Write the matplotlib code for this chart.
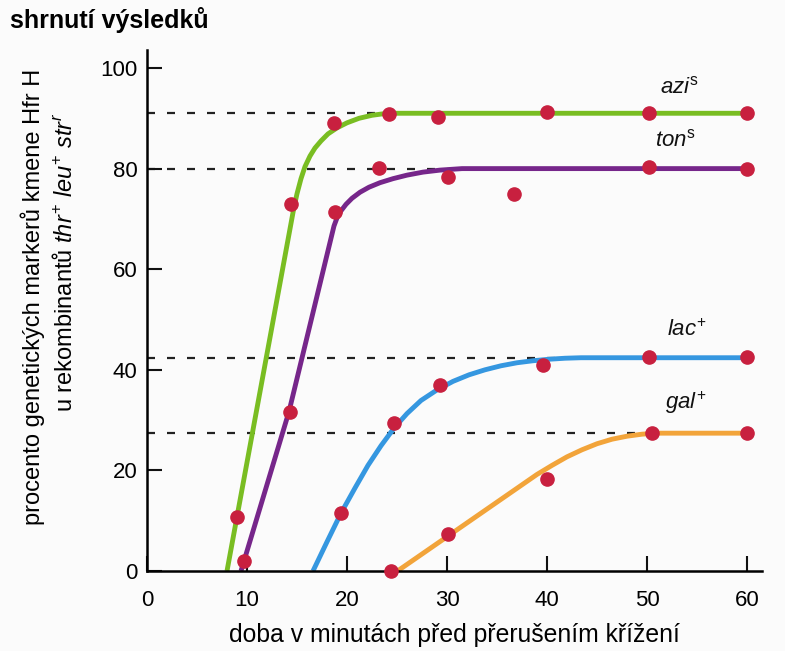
import matplotlib
matplotlib.use("Agg")
import matplotlib.pyplot as plt
from matplotlib import font_manager

# pick a condensed sans if available
names = {f.name for f in font_manager.fontManager.ttflist}
FONT = "Liberation Sans Narrow" if "Liberation Sans Narrow" in names else "Liberation Sans"

plt.rcParams["font.family"] = [FONT, "DejaVu Sans"]
plt.rcParams["mathtext.fontset"] = "custom"
plt.rcParams["mathtext.rm"] = FONT
plt.rcParams["mathtext.it"] = FONT + ":italic"

# fitted curves
azi_cx = [8.0, 14.65, 15.0, 15.4, 15.8, 16.3, 16.8, 17.4, 18.1, 19.0, 20.0, 21.2, 22.5, 24.0, 60.0]
azi_cy = [0.0, 71.8, 75.0, 78.0, 80.4, 82.5, 84.1, 85.5, 86.9, 88.1, 89.1, 90.0, 90.6, 91.0, 91.0]
ton_cx = [9.4, 14.2, 18.7, 19.0, 19.4, 19.9, 20.5, 21.3, 22.2, 23.3, 24.6, 26.0, 27.6, 29.3, 31.5, 60.0]
ton_cy = [0.0, 31.7, 68.6, 70.2, 71.6, 72.9, 74.1, 75.3, 76.3, 77.2, 78.0, 78.7, 79.3, 79.7, 80.0, 80.0]
lac_cx = [16.6, 18.0, 19.4, 20.8, 22.1, 23.4, 24.7, 26.0, 27.4, 29.0, 30.6, 32.2, 33.8, 35.4, 37.0,
          38.6, 40.2, 41.8, 43.4, 60.0]
lac_cy = [0.0, 5.8, 11.5, 16.5, 21.0, 24.9, 28.4, 31.3, 33.9, 36.0, 37.7, 39.0, 40.0, 40.8, 41.4,
          41.8, 42.1, 42.3, 42.4, 42.4]
gal_cx = [25.05, 39.0, 40.5, 42.0, 43.5, 45.0, 46.5, 48.0, 49.5, 51.0, 60.0]
gal_cy = [0.0, 19.2, 21.0, 22.7, 24.1, 25.3, 26.2, 26.8, 27.2, 27.4, 27.4]

# measured points
azi_x = [9.0, 14.4, 18.7, 24.2, 29.1, 40.0, 50.2, 60.0]
azi_y = [10.8, 73.0, 89.1, 90.9, 90.3, 91.2, 91.0, 91.0]
ton_x = [9.7, 14.3, 18.8, 23.2, 30.1, 36.7, 50.2, 60.0]
ton_y = [1.9, 31.7, 71.4, 80.2, 78.3, 75.0, 80.3, 80.0]
lac_x = [19.4, 24.7, 29.3, 39.6, 50.2, 60.0]
lac_y = [11.5, 29.5, 37.0, 41.0, 42.5, 42.5]
gal_x = [24.4, 30.1, 40.0, 50.5, 60.0]
gal_y = [0.0, 7.4, 18.2, 27.4, 27.4]

# plateau levels and where the dashed guide stops
levels = [91.0, 80.0, 42.4, 27.4]
level_ends = [25.0, 31.0, 44.0, 50.0]

labels = [r"$\mathit{azi}^{\mathrm{s}}$", r"$\mathit{ton}^{\mathrm{s}}$",
          r"$\mathit{lac}^{+}$", r"$\mathit{gal}^{+}$"]
label_x = [53.3, 52.9, 54.0, 53.9]
label_y = [94.0, 83.5, 45.8, 30.8]

fig = plt.figure(figsize=(7.85, 6.51), dpi=100)
fig.patch.set_facecolor("#fbfbfb")
ax = fig.add_axes([147 / 785, 80 / 651, 615 / 785, 520.6 / 651])
ax.set_facecolor("#fbfbfb")

for lv, xe in zip(levels, level_ends):
    ax.plot([0, xe], [lv, lv], color="#222222", lw=1.6, dashes=(3.6, 5.4), zorder=1)

line = dict(lw=3.5, solid_capstyle="butt", solid_joinstyle="round", zorder=2)
ax.plot(azi_cx, azi_cy, color="#79bd22", **line)
ax.plot(ton_cx, ton_cy, color="#76268a", **line)
ax.plot(lac_cx, lac_cy, color="#3597e0", **line)
ax.plot(gal_cx, gal_cy, color="#f2a43a", **line)

dot = dict(ls="none", marker="o", ms=9.5, color="#c8203f", zorder=3, clip_on=False)
for xs, ys in [(azi_x, azi_y), (ton_x, ton_y), (lac_x, lac_y), (gal_x, gal_y)]:
    ax.plot(xs, ys, **dot)

for t, x, y in zip(labels, label_x, label_y):
    ax.text(x, y, t, fontsize=16, ha="center", va="bottom", color="#111111")

ax.set_xlim(0, 61.5)
ax.set_ylim(0, 103.5)
ax.set_xticks([0, 10, 20, 30, 40, 50, 60])
ax.set_yticks([0, 20, 40, 60, 80, 100])
for s in ["top", "right"]:
    ax.spines[s].set_visible(False)
for s in ["left", "bottom"]:
    ax.spines[s].set_linewidth(1.8)
ax.tick_params(axis="both", direction="in", length=11, width=1.5, labelsize=16, color="#111111")
ax.tick_params(axis="x", pad=14)
ax.tick_params(axis="y", pad=7)

ax.set_xlabel("doba v minutách před přerušením křížení", fontsize=17.8, labelpad=8)

fig.text(33 / 785, 1 - 297 / 651, "procento genetických markerů kmene Hfr H",
         rotation=90, fontsize=17, ha="center", va="center")
fig.text(65 / 785, 1 - 262 / 651,
         r"u rekombinantů $\mathit{thr}^{+}$ $\mathit{leu}^{+}$ $\mathit{str}^{\mathit{r}}$",
         rotation=90, fontsize=17, ha="center", va="center")

fig.text(10 / 785, 1 - 20 / 651, "shrnutí výsledků", fontsize=18, fontweight="bold",
         ha="left", va="center")

fig.savefig("out.png", dpi=100, facecolor=fig.get_facecolor())
